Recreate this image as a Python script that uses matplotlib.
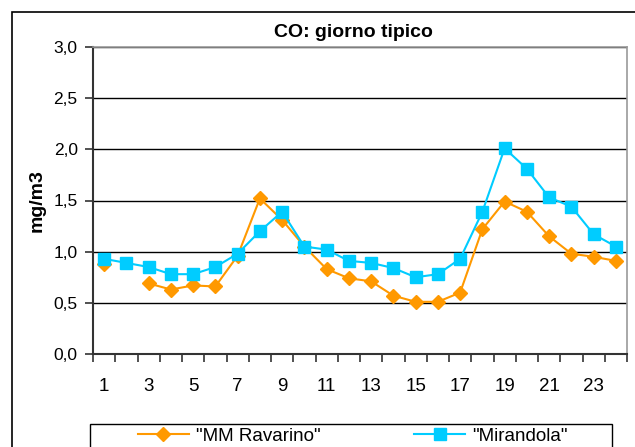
import numpy as np
import matplotlib.pyplot as plt
from matplotlib.patches import Rectangle

plt.rcParams['font.family'] = ['Liberation Sans', 'DejaVu Sans']

hours = list(range(1, 25))
ravarino = [0.88, np.nan, 0.69, 0.63, 0.67, 0.66, 0.96, 1.52, 1.31, 1.05, 0.83, 0.74,
            0.71, 0.57, 0.51, 0.51, 0.60, 1.22, 1.49, 1.39, 1.15, 0.98, 0.95, 0.91]
mirandola = [0.93, 0.89, 0.85, 0.78, 0.78, 0.85, 0.98, 1.20, 1.39, 1.05, 1.02, 0.91,
             0.89, 0.84, 0.75, 0.78, 0.93, 1.39, 2.01, 1.81, 1.53, 1.44, 1.17, 1.05]
yticks = [0.0, 0.5, 1.0, 1.5, 2.0, 2.5, 3.0]
xlabels = [h for h in hours if h % 2 == 1]

fig = plt.figure(figsize=(6.35, 4.47), dpi=100)
ax = fig.add_axes([93/635, 93/447, 534/635, 307/447])

# outer chart border (cut off at right/bottom like the original)
fig.patches.append(Rectangle((12/635, -0.1), 1.0, 435/447 + 0.1, transform=fig.transFigure,
                             fill=False, edgecolor='black', linewidth=1.2))

ax.plot(hours, ravarino, color='#FF9900', marker='D', markersize=7, linewidth=1.5,
        label='"MM Ravarino"')
ax.plot(hours, mirandola, color='#00CCFF', marker='s', markersize=8, linewidth=1.5,
        label='"Mirandola"')

ax.set_xlim(0.5, 24.5)
ax.set_ylim(0, 3.0)
ax.set_yticks(yticks)
ax.set_yticklabels([f'{v:.1f}'.replace('.', ',') for v in yticks], fontsize=12.5)
ax.set_xticks(xlabels)
ax.set_xticklabels([str(h) for h in xlabels], fontsize=13.5)
ax.set_xticks(np.arange(0.5, 25, 1), minor=True)
ax.tick_params(axis='x', which='major', length=0, pad=17)
ax.tick_params(axis='x', which='minor', length=6, width=1.2, color='#333333', direction='out')
ax.tick_params(axis='y', length=6, width=1.2, color='#333333', pad=5)

ax.grid(axis='y', color='black', linewidth=1)
ax.set_axisbelow(True)
for s in ['top', 'right']:
    ax.spines[s].set_color('#999999')
    ax.spines[s].set_linewidth(1.2)
for s in ['left', 'bottom']:
    ax.spines[s].set_color('#333333')
    ax.spines[s].set_linewidth(1.5)

ax.set_title('CO: giorno tipico', fontsize=14, fontweight='bold', pad=7, x=0.487)
ax.set_ylabel('mg/m3', fontsize=14, fontweight='bold', labelpad=6)

# legend box, bottom cut off by the figure edge
fig.patches.append(Rectangle((90/635, -0.1), 522/635, 23/447 + 0.1, transform=fig.transFigure,
                             fill=False, edgecolor='black', linewidth=1))
fig.legend(loc='center', bbox_to_anchor=(353/635, 11/447), ncol=2, fontsize=13.5,
           frameon=False, handlelength=2.7, handletextpad=0.4, columnspacing=5.0,
           borderaxespad=0, borderpad=0)

fig.savefig('out.png', dpi=100)
